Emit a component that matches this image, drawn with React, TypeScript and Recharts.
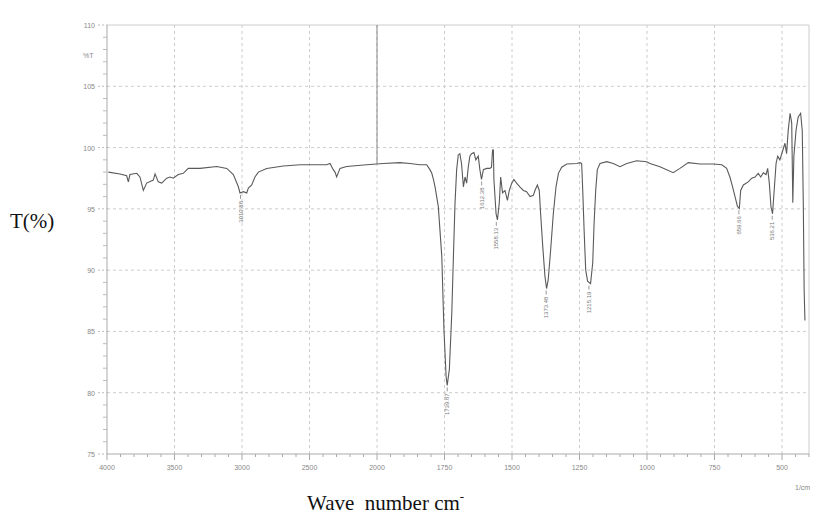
import React from 'react';
import {
  ComposedChart, Line, Scatter, XAxis, YAxis, CartesianGrid, ReferenceLine
} from 'recharts';

// wavenumber (cm-1)
const wavenumbers = [
  3990, 3904, 3854, 3842, 3830, 3780, 3756, 3731, 3706, 3657, 3644, 3620, 3595, 3558, 3533, 3509,
  3472, 3435, 3398, 3311, 3187, 3113, 3064, 3027, 3015, 2990, 2965, 2953, 2928, 2904, 2879, 2817,
  2694, 2570, 2447, 2373, 2348, 2324, 2311, 2299, 2274, 2225, 2076, 1977, 1915, 1878, 1841, 1816,
  1804, 1797, 1791, 1785, 1773, 1760, 1752, 1744, 1740, 1732, 1723, 1717, 1711, 1705, 1699, 1693,
  1687, 1680, 1674, 1668, 1662, 1656, 1650, 1641, 1634, 1625, 1619, 1613, 1606, 1594, 1582, 1576,
  1572, 1569, 1567, 1559, 1554, 1547, 1542, 1535, 1526, 1517, 1510, 1501, 1493, 1483, 1471, 1458,
  1446, 1433, 1421, 1415, 1406, 1399, 1394, 1386, 1378, 1372, 1366, 1357, 1347, 1337, 1328, 1316,
  1297, 1260, 1248, 1242, 1238, 1233, 1227, 1220, 1209, 1201, 1196, 1190, 1184, 1174, 1149, 1125,
  1100, 1075, 1038, 1001, 989, 952, 903, 878, 847, 804, 754, 723, 705, 693, 683, 674,
  665, 658, 653, 643, 625, 612, 600, 588, 579, 569, 559, 553, 547, 541, 535, 529,
  522, 516, 508, 498, 489, 483, 477, 470, 464, 460, 456, 448, 440, 431, 425, 421,
  418, 415,
];

// transmittance (%)
const transmittance = [
  98.0, 97.85, 97.7, 97.2, 97.8, 97.9, 97.6, 96.5, 97.1, 97.35, 97.85, 97.2, 97.1, 97.5, 97.6, 97.5,
  97.8, 97.9, 98.3, 98.3, 98.45, 98.3, 97.8, 96.8, 96.3, 96.4, 96.3, 96.7, 96.95, 97.6, 98.0, 98.3,
  98.5, 98.6, 98.6, 98.6, 98.7, 98.2, 98.0, 97.6, 98.3, 98.45, 98.6, 98.7, 98.77, 98.7, 98.6, 98.6,
  98.2, 97.9, 97.4, 96.8, 95.2, 91.1, 85.1, 81.3, 80.6, 81.9, 86.5, 91.1, 95.5, 98.2, 99.4, 99.5,
  98.7, 96.8, 97.6, 97.1, 98.4, 99.3, 99.5, 99.6, 99.0, 99.3, 98.2, 97.4, 98.2, 98.3, 98.3, 98.4,
  99.8, 99.8, 97.4, 94.6, 94.1, 95.5, 97.6, 96.3, 96.5, 95.7, 96.5, 97.1, 97.4, 97.1, 96.8, 96.5,
  96.4, 96.0, 96.1, 96.5, 96.95, 96.5, 94.6, 91.9, 89.5, 88.5, 89.2, 91.6, 94.6, 96.8, 97.9, 98.4,
  98.66, 98.7, 98.77, 98.7, 96.5, 93.3, 90.0, 89.1, 88.9, 90.6, 93.8, 96.5, 98.2, 98.7, 98.85, 98.7,
  98.44, 98.7, 98.93, 98.85, 98.7, 98.44, 97.95, 98.3, 98.77, 98.66, 98.66, 98.6, 98.3, 97.6, 96.8, 96.0,
  95.2, 95.05, 96.5, 96.95, 97.2, 97.5, 97.6, 97.9, 97.6, 97.95, 97.8, 98.3, 97.1, 95.2, 94.6, 96.5,
  98.7, 99.3, 99.0, 99.7, 100.35, 99.5, 101.4, 102.8, 102.0, 95.5, 99.3, 101.4, 102.5, 102.8, 101.4, 95.2,
  88.4, 85.9,
];

// labelled peaks
const peakWavenumbers = [3010.88, 1739.87, 1612.38, 1558.13, 1373.48, 1215.19, 659.66, 536.21];
const peakValues = [96.3, 80.6, 97.4, 94.1, 88.5, 88.9, 95.05, 94.6];

const xTickLabels = [4000, 3500, 3000, 2500, 2000, 1750, 1500, 1250, 1000, 750, 500];
const yTickLabels = [75, 80, 85, 90, 95, 100, 105, 110];

// instrument plots 4000-2000 at half the scale of 2000-400
const toPos = (wn: number) => (wn >= 2000 ? 4000 - wn : 2000 + (2000 - wn) * 2);
const fromPos = (p: number) => (p <= 2000 ? 4000 - p : 2000 - (p - 2000) / 2);

const spectrum = wavenumbers.map((w, i) => ({ pos: toPos(w), t: transmittance[i] }));
const peaks = peakWavenumbers.map((w, i) => ({ pos: toPos(w), t: peakValues[i], label: w.toFixed(2) }));

const xTicks = Array.from({ length: 53 }, (_, i) => i * 100);
const yTicks = Array.from({ length: 36 }, (_, i) => 75 + i);
const majorX = xTickLabels.map(toPos);

const tickFont = { fontFamily: 'Liberation Sans, Arial, sans-serif', fontSize: 7, fill: '#888' };
const serif = 'Liberation Serif, Times New Roman, serif';

const renderXTick = (props: any) => {
  const { x, y, payload } = props;
  const major = majorX.includes(payload.value);
  return (
    <g>
      <line x1={x} x2={x} y1={y} y2={y + (major ? 6 : 3)} stroke="#aaa" />
      {major && (
        <text x={x} y={y + 16} textAnchor="middle" {...tickFont}>
          {Math.round(fromPos(payload.value))}
        </text>
      )}
    </g>
  );
};

const renderYTick = (props: any) => {
  const { x, y, payload } = props;
  const major = yTickLabels.includes(payload.value);
  return (
    <g>
      <line x1={x - (major ? 9 : 4)} x2={x} y1={y} y2={y} stroke="#bbb" strokeDasharray={major ? '2 2' : undefined} />
      {major && (
        <text x={x - 12} y={y + 3} textAnchor="end" {...tickFont}>
          {payload.value}
        </text>
      )}
    </g>
  );
};

const renderPeak = (props: any) => {
  const { cx, cy, payload } = props;
  return (
    <g>
      <line x1={cx} x2={cx} y1={cy + 2} y2={cy + 6} stroke="#999" />
      <text
        x={cx + 2}
        y={cy + 8}
        transform={`rotate(-90 ${cx + 2} ${cy + 8})`}
        textAnchor="end"
        fontFamily="Liberation Sans, Arial, sans-serif"
        fontSize={6}
        fill="#777"
      >
        {payload.label}
      </text>
    </g>
  );
};

const YTitle = (props: any) => {
  const { viewBox } = props;
  const vx = viewBox?.x ?? 0;
  const vy = viewBox?.y ?? 25;
  return (
    <g>
      <text x={vx + 83} y={vy + 33} {...tickFont}>%T</text>
      <text x={vx + 10} y={vy + 203} fontFamily={serif} fontSize={21} fill="#111">T(%)</text>
    </g>
  );
};

const XTitle = (props: any) => {
  const { viewBox } = props;
  const vx = viewBox?.x ?? 107;
  const vy = viewBox?.y ?? 454;
  return (
    <g>
      <text x={vx + 688} y={vy + 36} {...tickFont}>1/cm</text>
      <text x={vx + 200} y={vy + 56} fontFamily={serif} fontSize={21} fill="#111" xmlSpace="preserve">
        {'Wave  number cm'}
        <tspan dy={-9} fontSize={13}>-</tspan>
      </text>
    </g>
  );
};

const App = () => {
  return (
    <div style={{ position: 'absolute', left: 0, top: 0, width: 813, height: 518, background: '#fff' }}>
      <ComposedChart width={813} height={518} margin={{ top: 25, right: 4, bottom: 0, left: 0 }}>
        <CartesianGrid
          horizontalValues={[80, 85, 90, 95, 100, 105]}
          verticalValues={majorX.slice(1)}
          stroke="#ccc"
          strokeDasharray="3 3"
        />
        <XAxis
          type="number"
          dataKey="pos"
          domain={[0, 5200]}
          ticks={xTicks}
          interval={0}
          tickLine={false}
          tickSize={0}
          tickMargin={0}
          tick={renderXTick}
          axisLine={{ stroke: '#aaa' }}
          height={64}
          label={<XTitle />}
          allowDataOverflow
        />
        <YAxis
          type="number"
          domain={[75, 110]}
          ticks={yTicks}
          interval={0}
          tickLine={false}
          tickSize={0}
          tickMargin={0}
          tick={renderYTick}
          axisLine={{ stroke: '#aaa' }}
          width={107}
          label={<YTitle />}
          allowDataOverflow
        />
        <ReferenceLine y={110} stroke="#ccc" />
        <ReferenceLine x={5200} stroke="#ccc" />
        <ReferenceLine segment={[{ x: 2000, y: 110 }, { x: 2000, y: 98.7 }]} stroke="#888" />
        <Line
          data={spectrum}
          dataKey="t"
          type="linear"
          stroke="#5a5a5a"
          strokeWidth={1.1}
          dot={false}
          activeDot={false}
          isAnimationActive={false}
        />
        <Scatter data={peaks} dataKey="t" shape={renderPeak} isAnimationActive={false} />
      </ComposedChart>
    </div>
  );
};

export default App;
